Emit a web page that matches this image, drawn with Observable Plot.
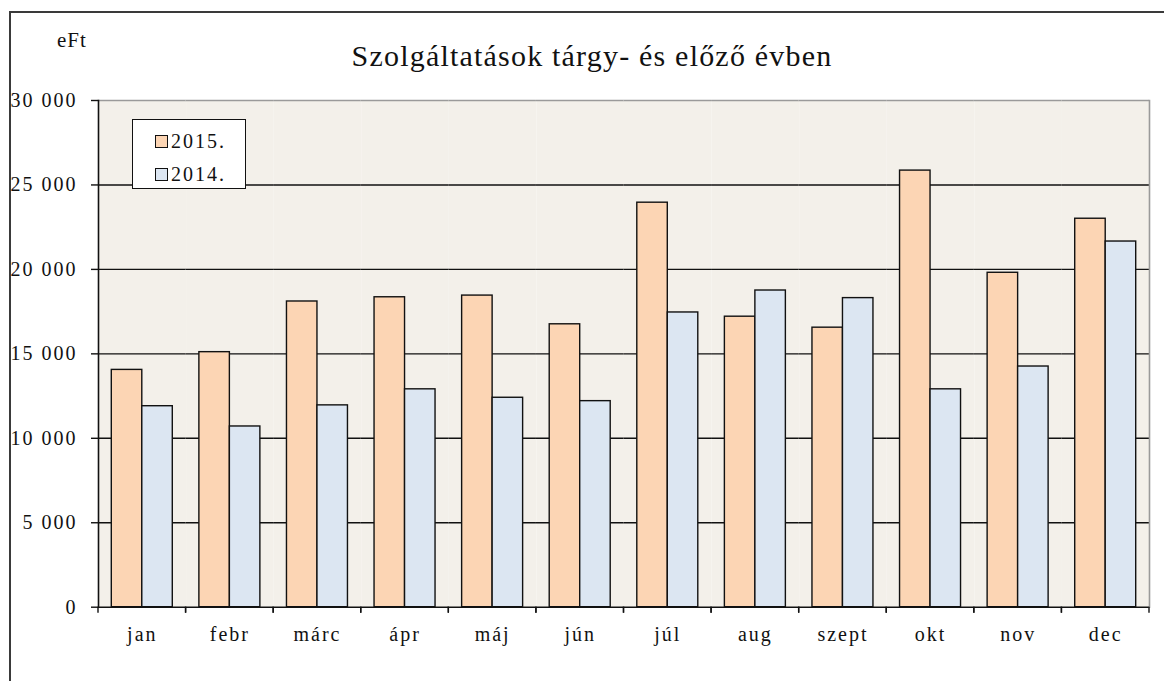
<!DOCTYPE html>
<html>
<head>
<meta charset="utf-8">
<script src="https://cdn.jsdelivr.net/npm/d3@7"></script>
<script src="https://cdn.jsdelivr.net/npm/@observablehq/plot@0.6"></script>
<style>
  html, body { margin: 0; padding: 0; background: #fff; }
  #wrap { position: relative; width: 1164px; height: 681px; overflow: hidden; font-family: "Liberation Serif"; color: #111; }
  #outer { position: absolute; left: 9px; top: 11px; width: 1400px; height: 900px; border-left: 2px solid #3a3a3a; border-top: 2px solid #3a3a3a; }
  #chart { position: absolute; left: 0; top: 0; }
  #title { position: absolute; left: 0; width: 1184px; top: 41px; text-align: center; font-family: "Liberation Serif"; font-size: 30px; letter-spacing: 1.2px; line-height: 1; }
  #unit { position: absolute; left: 57px; top: 30px; font-family: "Liberation Serif"; font-size: 21px; letter-spacing: 1px; line-height: 1; }
  #legend { position: absolute; left: 132px; top: 119px; width: 112px; height: 68px; background: #fff; border: 1.5px solid #111; box-sizing: content-box; }
  .item { position: absolute; left: 22px; display: flex; align-items: center; font-family: "Liberation Serif"; font-size: 20px; letter-spacing: 2px; line-height: 1; }
  .sw { width: 11px; height: 11px; border: 1.5px solid #111; margin-right: 3px; }
  #chart svg text { font-family: "Liberation Serif"; }
</style>
</head>
<body>
<div id="wrap">
  <div id="outer"></div>
  <div id="chart"></div>
  <div id="unit"></div>
  <div id="title"></div>
  <div id="legend"></div>
</div>
<script>
// ---- data ----
const months = ["jan", "febr", "márc", "ápr", "máj", "jún", "júl", "aug", "szept", "okt", "nov", "dec"];
const v2015 = [14050, 15100, 18100, 18350, 18450, 16750, 23950, 17200, 16550, 25850, 19800, 23000];
const v2014 = [11900, 10700, 11950, 12900, 12400, 12200, 17450, 18750, 18300, 12900, 14250, 21650];
const years = ["2015.", "2014."];
const yTicks = [0, 5000, 10000, 15000, 20000, 25000, 30000];
const colors = ["#FCD5B4", "#DCE6F2"];
const titleText = "Szolgáltatások tárgy- és előző évben";
const unitText = "eFt";

const rows = months.flatMap((m, i) => [
  {month: m, year: years[0], value: v2015[i]},
  {month: m, year: years[1], value: v2014[i]}
]);

const fmt = d => d3.format(",")(d).replace(/,/g, " ");
const ink = "#111";

// boundary ticks under each month group (drawn from the inner x scale's range)
const boundaryTicks = (index, scales) => {
  const [xa, xb] = scales.x.range();
  const y0 = scales.y(0);
  const g = d3.create("svg:g").attr("stroke", ink).attr("stroke-width", 1.4);
  for (const x of [xa, xb]) {
    g.append("line").attr("x1", x).attr("x2", x).attr("y1", y0).attr("y2", y0 + 6);
  }
  return g.node();
};

const chart = Plot.plot({
  width: 1164,
  height: 660,
  marginTop: 100,
  marginBottom: 53.3,
  marginLeft: 98,
  marginRight: 15,
  style: {
    fontFamily: "'Liberation Serif'",
    fontSize: "20px",
    letterSpacing: "2px",
    background: "transparent",
    color: ink,
    overflow: "visible"
  },
  fx: {domain: months, paddingInner: 0, paddingOuter: 0, round: false, label: null, axis: null},
  x: {type: "band", domain: years, paddingInner: 0, paddingOuter: 0.436, round: false, axis: null},
  y: {domain: [0, 30000], axis: null},
  color: {domain: years, range: colors},
  marks: [
    Plot.frame({fill: "#F3F0EA", stroke: null}),
    Plot.ruleY(yTicks.slice(1, -1), {stroke: ink, strokeWidth: 1.4}),
    Plot.ruleY([yTicks[yTicks.length - 1]], {stroke: "#9a9a9a", strokeWidth: 1.4}),
    Plot.barY(rows, {fx: "month", x: "year", y: "value", fill: "year", stroke: ink, strokeWidth: 1.4}),
    Plot.ruleY([0], {stroke: ink, strokeWidth: 1.6}),
    Plot.frame({anchor: "right", facet: "super", stroke: "#9a9a9a", strokeWidth: 1.6}),
    Plot.frame({anchor: "left", facet: "super", stroke: ink, strokeWidth: 1.6}),
    Plot.axisY({ticks: yTicks, tickFormat: fmt, tickSize: 7, tickPadding: 14, label: null, stroke: ink, strokeWidth: 1.4, fontFamily: "Liberation Serif"}),
    Plot.axisFx({tickSize: 0, tickPadding: 20, label: null, anchor: "bottom", fontFamily: "Liberation Serif"}),
    boundaryTicks
  ]
});
document.getElementById("chart").appendChild(chart);

document.getElementById("title").textContent = titleText;
document.getElementById("unit").textContent = unitText;

const legend = document.getElementById("legend");
years.forEach((y, i) => {
  const item = document.createElement("div");
  item.className = "item";
  item.style.top = (i === 0 ? 11 : 44) + "px";
  const sw = document.createElement("div");
  sw.className = "sw";
  sw.style.background = colors[i];
  const t = document.createElement("span");
  t.textContent = y;
  item.appendChild(sw);
  item.appendChild(t);
  legend.appendChild(item);
});
</script>
</body>
</html>
